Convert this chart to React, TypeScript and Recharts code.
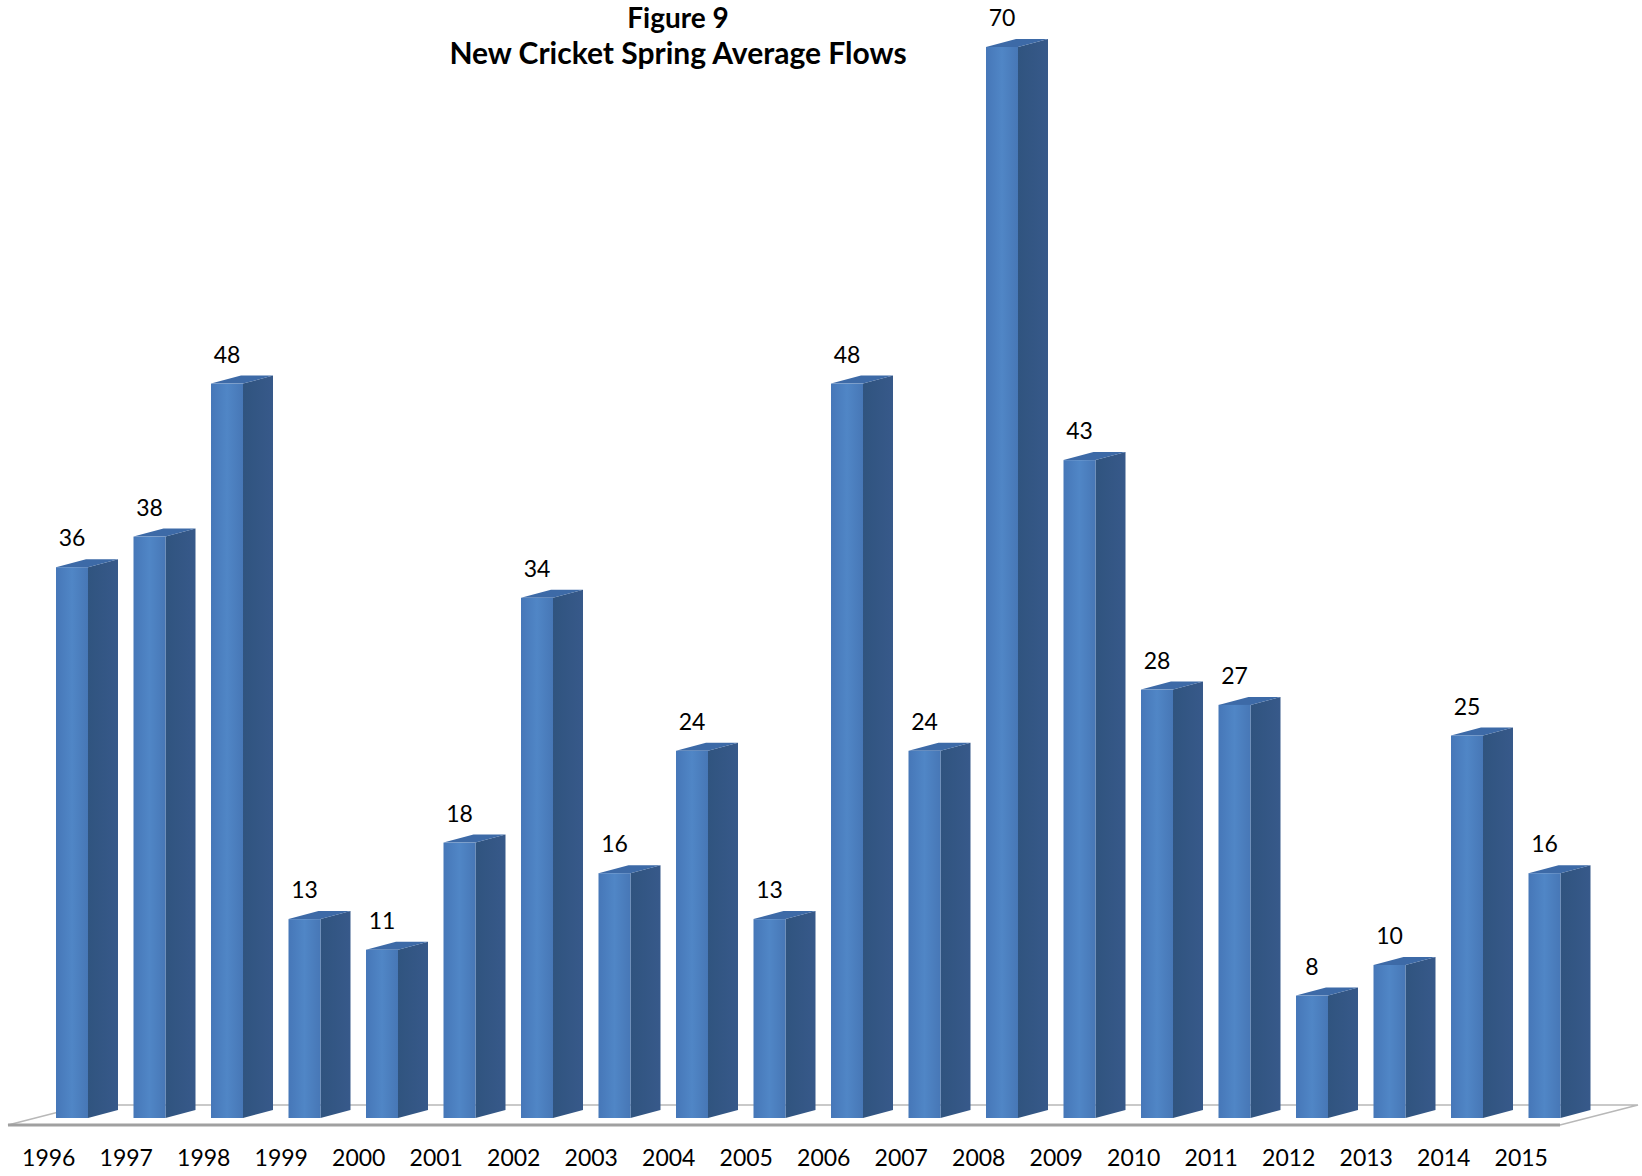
import React from "react";
import * as R from "recharts";
import { BarChart, Bar, XAxis, YAxis } from "recharts";

const years = [
  "1996", "1997", "1998", "1999", "2000", "2001", "2002", "2003", "2004", "2005",
  "2006", "2007", "2008", "2009", "2010", "2011", "2012", "2013", "2014", "2015",
];
const flows = [36, 38, 48, 13, 11, 18, 34, 16, 24, 13, 48, 24, 70, 43, 28, 27, 8, 10, 25, 16];

const titleLines = ["Figure 9", "New Cricket Spring Average Flows"];

const data = years.map((year, i) => ({ year, flow: flows[i] }));

const W = 1642;
const H = 1176;
const MARGIN = { top: 47, right: 82, left: 10, bottom: 0 };
const AXIS_H = 58;

const FONT = "Lato, 'Open Sans', sans-serif";
// excel-style 3D: front face is pushed right of the tick, side/top go up-right
const SHIFT = 23;
const DEPTH_X = 30;
const DEPTH_Y = -8;

function Prism(props: any) {
  const { x, y, width, height } = props;
  if (height == null || height <= 0) return null;
  const fx = x + SHIFT;
  const bottom = y + height;
  const side = `M${fx + width},${y} L${fx + width + DEPTH_X},${y + DEPTH_Y} L${fx + width + DEPTH_X},${bottom + DEPTH_Y} L${fx + width},${bottom} Z`;
  const top = `M${fx},${y} L${fx + DEPTH_X},${y + DEPTH_Y} L${fx + width + DEPTH_X},${y + DEPTH_Y} L${fx + width},${y} Z`;
  return (
    <g>
      <path d={side} fill="url(#sideGrad)" />
      <path d={top} fill="#3d6aa7" />
      <rect x={fx} y={y} width={width} height={height} fill="url(#frontGrad)" />
    </g>
  );
}

function ValueLabel(props: any) {
  const { x, y, width, value } = props;
  return (
    <text
      x={x + SHIFT + width / 2}
      y={y - 21}
      textAnchor="middle"
      fontFamily={FONT}
      fontSize={23}
      fill="#000"
    >
      {value}
    </text>
  );
}

function YearTick(props: any) {
  const { x, y, payload } = props;
  return (
    <text x={x} y={y + 48} textAnchor="middle" fontFamily={FONT} fontSize={23} fill="#000">
      {payload.value}
    </text>
  );
}

const usePlot: () => any = (R as any).usePlotArea || (() => null);

function Floor() {
  const plot = usePlot();
  const left = plot ? plot.x : MARGIN.left;
  const width = plot ? plot.width : W - MARGIN.left - MARGIN.right;
  const base = plot ? plot.y + plot.height : H - AXIS_H - MARGIN.bottom;
  const right = left + width;
  const fy = base + 7;
  const by = base - 13;
  const bx = 78;
  return (
    <g>
      <path
        d={`M${left - 2},${fy} L${left - 2 + bx},${by} L${right + bx},${by} L${right},${fy} Z`}
        fill="#fff"
        stroke="#b8b8b8"
        strokeWidth={1.5}
      />
      <line x1={left - 2} y1={fy} x2={right} y2={fy} stroke="#a0a0a0" strokeWidth={3} />
    </g>
  );
}

function Title() {
  return (
    <g>
      <text x={678} y={28} textAnchor="middle" fontFamily={FONT} fontWeight="bold" fontSize={28} fill="#000">
        {titleLines[0]}
      </text>
      <text x={678} y={64} textAnchor="middle" fontFamily={FONT} fontWeight="bold" fontSize={30} fill="#000">
        {titleLines[1]}
      </text>
    </g>
  );
}

export default function App() {
  return (
    <div style={{ position: "absolute", left: 0, top: 0, background: "#fff" }}>
      <BarChart width={W} height={H} data={data} margin={MARGIN} barSize={32}>
        <defs>
          <linearGradient id="frontGrad" x1="0" y1="0" x2="1" y2="0">
            <stop offset="0%" stopColor="#4677b8" />
            <stop offset="50%" stopColor="#5086c6" />
            <stop offset="100%" stopColor="#4777b6" />
          </linearGradient>
          <linearGradient id="sideGrad" x1="0" y1="0" x2="1" y2="0">
            <stop offset="0%" stopColor="#30547f" />
            <stop offset="100%" stopColor="#37598a" />
          </linearGradient>
        </defs>
        <Floor />
        <Title />
        <XAxis
          dataKey="year"
          height={AXIS_H}
          axisLine={false}
          tickLine={false}
          tickSize={0}
          tickMargin={0}
          interval={0}
          tick={<YearTick />}
        />
        <YAxis hide domain={[0, 70]} />
        <Bar
          dataKey="flow"
          shape={<Prism />}
          label={<ValueLabel />}
          isAnimationActive={false}
        />
      </BarChart>
    </div>
  );
}
